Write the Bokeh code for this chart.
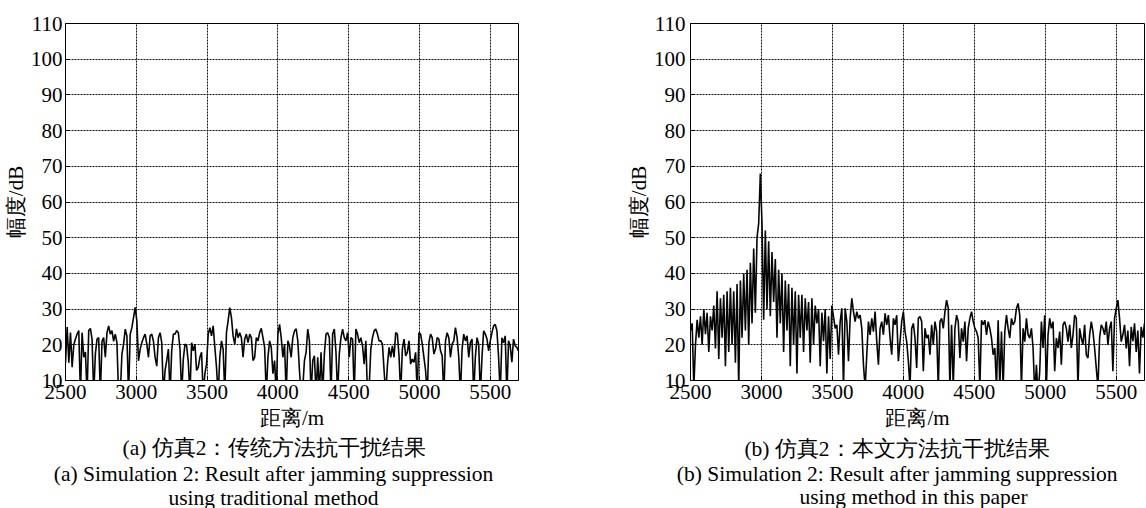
import numpy as np
from bokeh.plotting import figure
from bokeh.layouts import row, column
from bokeh.models import FixedTicker, Range1d
from bokeh.core.properties import value
from bokeh.embed import file_html
from bokeh.resources import INLINE

x_ticks = [2500, 3000, 3500, 4000, 4500, 5000, 5500]
y_ticks = [10, 20, 30, 40, 50, 60, 70, 80, 90, 100, 110]
x_limits = (2500, 5700)
y_limits = (10, 110)
x_label = "距离/m"
y_label = "幅度/dB"
captions_a = ["(a) 仿真2：传统方法抗干扰结果",
              "(a) Simulation 2: Result after jamming suppression",
              "using traditional method"]
captions_b = ["(b) 仿真2：本文方法抗干扰结果",
              "(b) Simulation 2: Result after jamming suppression",
              "using method in this paper"]

# (a) traditional method, amplitude in dB, 2500 m .. 5700 m
amp_traditional = [
    15, 25, 15, 23.4, 13.7, 20, 21.6, 23, 24, 6, 23.4, 16.5, 18, 6, 24, 24.6, 21.6, 6,
    17.4, 21.6, 22, 6, 21, 22, 16.5, 23.4, 25.3, 23, 24, 21, 23, 20.6, 6, 6, 17.4, 20.2,
    24.4, 22.5, 6, 23, 24.8, 27.6, 30.5,
    26.7, 15.5, 18.8, 20.6, 22, 23, 20.2, 16.5, 22.5, 23, 21, 16.5, 14, 22, 23.4, 20.6,
    6, 12.8, 15.6, 18.8, 6, 18.3, 23, 23, 24, 23.4, 18.8, 6, 16, 20.2, 19.7, 15.1, 6,
    20.6, 18.3, 20.2, 12.8, 13.7, 16.5, 17.9, 6, 11.9, 14.6, 23, 24.8, 22.5, 25.3, 19.3,
    13.7, 6, 16.5, 21.1, 18.8, 6, 23.4, 26.7, 30.4,
    27.6, 22.5, 20.2, 24.5, 22, 23.4, 22, 16.5, 21.6, 23, 20.6, 23, 22, 15.6, 16.5, 22,
    21.1, 23.4, 24.6, 22, 19.3, 6, 16.5, 21.1, 19.3, 11.9, 15.6, 6, 23, 25.7, 22, 16.5,
    20.2, 6, 21.1, 19.7, 16.5,
    22.0, 23.9, 24.5, 21.1, 12.8, 6, 8, 15.6, 17.9, 24.4, 21.1, 6, 15.6, 16.9, 6, 16.5,
    6, 17.9, 6, 17.4, 23.0, 23.4, 22.0, 6, 23.0, 24.4, 17.9, 6, 17.4, 22.0, 24.4, 22.0,
    21.1, 23.4, 16.5, 22.0, 21.6, 6, 24.4, 23.0, 20.6, 22.0, 19.7, 14.6, 21.1, 6, 8,
    18.8, 22.0, 23.9, 24.4, 23.0, 21.1, 21.1, 20.2, 12.8, 6, 14.2, 19.3, 16.5, 19.7,
    16.5, 23.4, 23.0, 16.9, 6, 18.8, 21.6, 16.9, 17.9, 21.1, 14.6, 16.0, 15.1, 17.9, 6,
    23.4, 23.0, 20.2, 16.5, 12.8, 6, 20.6, 23.0, 22.0, 17.4, 18.8, 22.0, 21.6, 18.3,
    16.9, 6, 21.1, 23.4, 22.0, 16.5, 20.2, 21.1, 24.8, 22.0, 16.5, 6, 18.8, 23.0, 21.1,
    22.5, 16.5, 20.6, 21.6, 6, 16.5, 22.0, 20.2, 6, 16.5, 23.9, 23.0, 21.6, 18.3, 21.1,
    23.4, 25.3, 25.7, 23.9, 16.5, 6, 22.0, 20.6, 22.5, 6, 21.1, 19.7, 15.1, 21.6, 19.7,
    19.3, 18.3,
]

# (b) method in this paper, amplitude in dB, 2500 m .. 5700 m
amp_proposed = [
    24, 26, 8, 20, 27, 22, 28, 20, 30, 23, 29, 18, 28, 24, 31, 19, 35, 16, 33, 22, 34,
    14, 35, 18, 36, 20, 35, 15, 37, 8, 38, 22, 40, 24, 41, 20, 43, 26, 47, 29, 50, 54,
    68, 54, 27, 52, 30, 49, 28, 46, 32, 44, 22, 41, 26, 40, 18, 38, 24, 37, 14, 36, 20,
    35, 12, 34, 22, 34, 18, 33, 24, 32, 15, 33, 20, 31, 26, 30, 14, 29, 21, 30, 12, 28,
    16, 31,
    27.9, 24.6, 25.6, 17.2, 26.5, 30.2, 8, 30.2, 26.5, 15.4, 27.4, 33.0, 29.3, 26.5,
    29.3, 27.4, 28.3, 24.6, 14.4, 8, 17.2, 26.5, 22.8, 27.4, 23.7, 29.3, 20.9, 14.4,
    24.6, 26.5, 22.8, 28.8, 25.6, 28.3, 21.9, 17.2, 27.4, 25.6, 28.3, 15.4, 20.9, 26.5,
    29.3, 23.7, 20.9, 15.4, 8, 24.6, 26.0, 21.9, 13.5, 27.4, 27.9, 26.5, 12.6, 24.6,
    21.9, 22.8, 17.2, 25.6, 20.0, 26.5, 23.7, 8, 26.5, 27.4, 24.6, 29.3, 32.5, 30.2, 8,
    25.6, 8, 24.6, 28.3, 26.5, 16.3, 24.6, 20.9, 26.5, 15.4, 24.6, 27.4, 29.3, 26.5,
    24.6,
    23.7, 21.9, 8, 26.9, 25.6, 26.9, 22.8, 26.5, 24.6, 21.9, 17.2, 19.1, 8, 26.9, 8,
    23.7, 8, 23.7, 28.3, 24.6, 21.9, 27.4, 25.6, 26.5, 30.2, 31.6, 28.3, 8, 24.6, 20.9,
    27.4, 22.8, 21.9, 24.6, 19.1, 6, 14.4, 6, 12.6, 26.5, 19.1, 28.3, 8, 22.8, 27.4,
    24.6, 26.5, 12.6, 21.9, 19.1, 23.7, 14.4, 25.6, 26.5, 24.6, 20.9, 25.6, 19.1, 22.8,
    28.3, 27.4, 8, 24.6, 21.9, 20.0, 25.6, 17.2, 16.3, 22.8, 26.5, 23.7, 19.1, 13.5, 8,
    21.9, 25.6, 24.6, 22.8, 26.5, 20.0, 24.6, 26.5, 12.6, 27.4, 30.2, 32.5, 27.4, 20.9,
    22.8, 25.6, 19, 24, 14, 25, 21, 26, 18, 24, 12, 25, 22, 26,
]

SERIF = "Liberation Serif"
FRAME_H = 360
PLOT_H = 436      # height of the two chart canvases
CAP_H = 72        # height of the caption strip below them
PAGE_W = 1146


def make_panel(values, width, b_left, b_right, b_top, tick_standoff):
    dist = np.linspace(x_limits[0], x_limits[1], len(values))
    p = figure(width=width, height=PLOT_H, output_backend="svg", toolbar_location=None,
               x_range=Range1d(*x_limits), y_range=Range1d(*y_limits),
               min_border_left=b_left, min_border_right=b_right,
               min_border_top=b_top, min_border_bottom=PLOT_H - b_top - FRAME_H)
    p.line(dist, values, line_color="#050505", line_width=1.6)
    p.xaxis.ticker = FixedTicker(ticks=x_ticks)
    p.yaxis.ticker = FixedTicker(ticks=y_ticks)
    for ax in (p.xaxis, p.yaxis):
        ax.axis_line_color = "black"
        ax.major_tick_line_color = "black"
        ax.major_tick_in = 4
        ax.major_tick_out = 0
        ax.minor_tick_line_color = None
        ax.major_label_text_font = SERIF
        ax.major_label_text_font_size = "21px"
        ax.major_label_text_color = "black"
        ax.axis_label_text_font = SERIF
        ax.axis_label_text_font_size = "21px"
        ax.axis_label_text_font_style = "normal"
        ax.axis_label_text_color = "black"
    p.xaxis.major_label_standoff = 4
    p.xaxis.axis_label_standoff = 4
    p.yaxis.major_label_standoff = tick_standoff
    p.yaxis.axis_label_standoff = 0
    p.xaxis.axis_label = x_label
    p.yaxis.axis_label = y_label
    for g in (p.xgrid, p.ygrid):
        g.grid_line_color = "#111111"
        g.grid_line_dash = "2 1"
        g.grid_line_width = 1
    p.outline_line_color = "black"
    p.outline_line_alpha = 1
    p.outline_line_width = 1
    p.background_fill_color = "white"
    p.border_fill_color = "white"
    return p


p1 = make_panel(amp_traditional, 600, 65, 82, 20, 3)
p2 = make_panel(amp_proposed, 546, 90, 2, 23, 5)

# caption strip under the charts (pixel positions on the page: centre x, centre y)
text_items = captions_a + captions_b
text_cx = [274, 273, 273, 896.5, 896.7, 913]
text_cy = [447.5, 473, 497, 448, 473.5, 496]

cap = figure(width=PAGE_W, height=CAP_H, output_backend="svg", toolbar_location=None,
             x_range=Range1d(0, PAGE_W), y_range=Range1d(PLOT_H + CAP_H, PLOT_H),
             x_axis_type=None, y_axis_type=None, min_border=0)
cap.grid.visible = False
cap.outline_line_color = None
cap.background_fill_color = "white"
cap.border_fill_color = "white"
cap.text(x=text_cx, y=text_cy, text=text_items, text_font=value(SERIF),
         text_font_size=value("21.5px"), text_align="center", text_baseline="middle",
         text_color="black")

layout = column(row(p1, p2), cap)
open("out.html", "w").write(file_html(layout, INLINE))
